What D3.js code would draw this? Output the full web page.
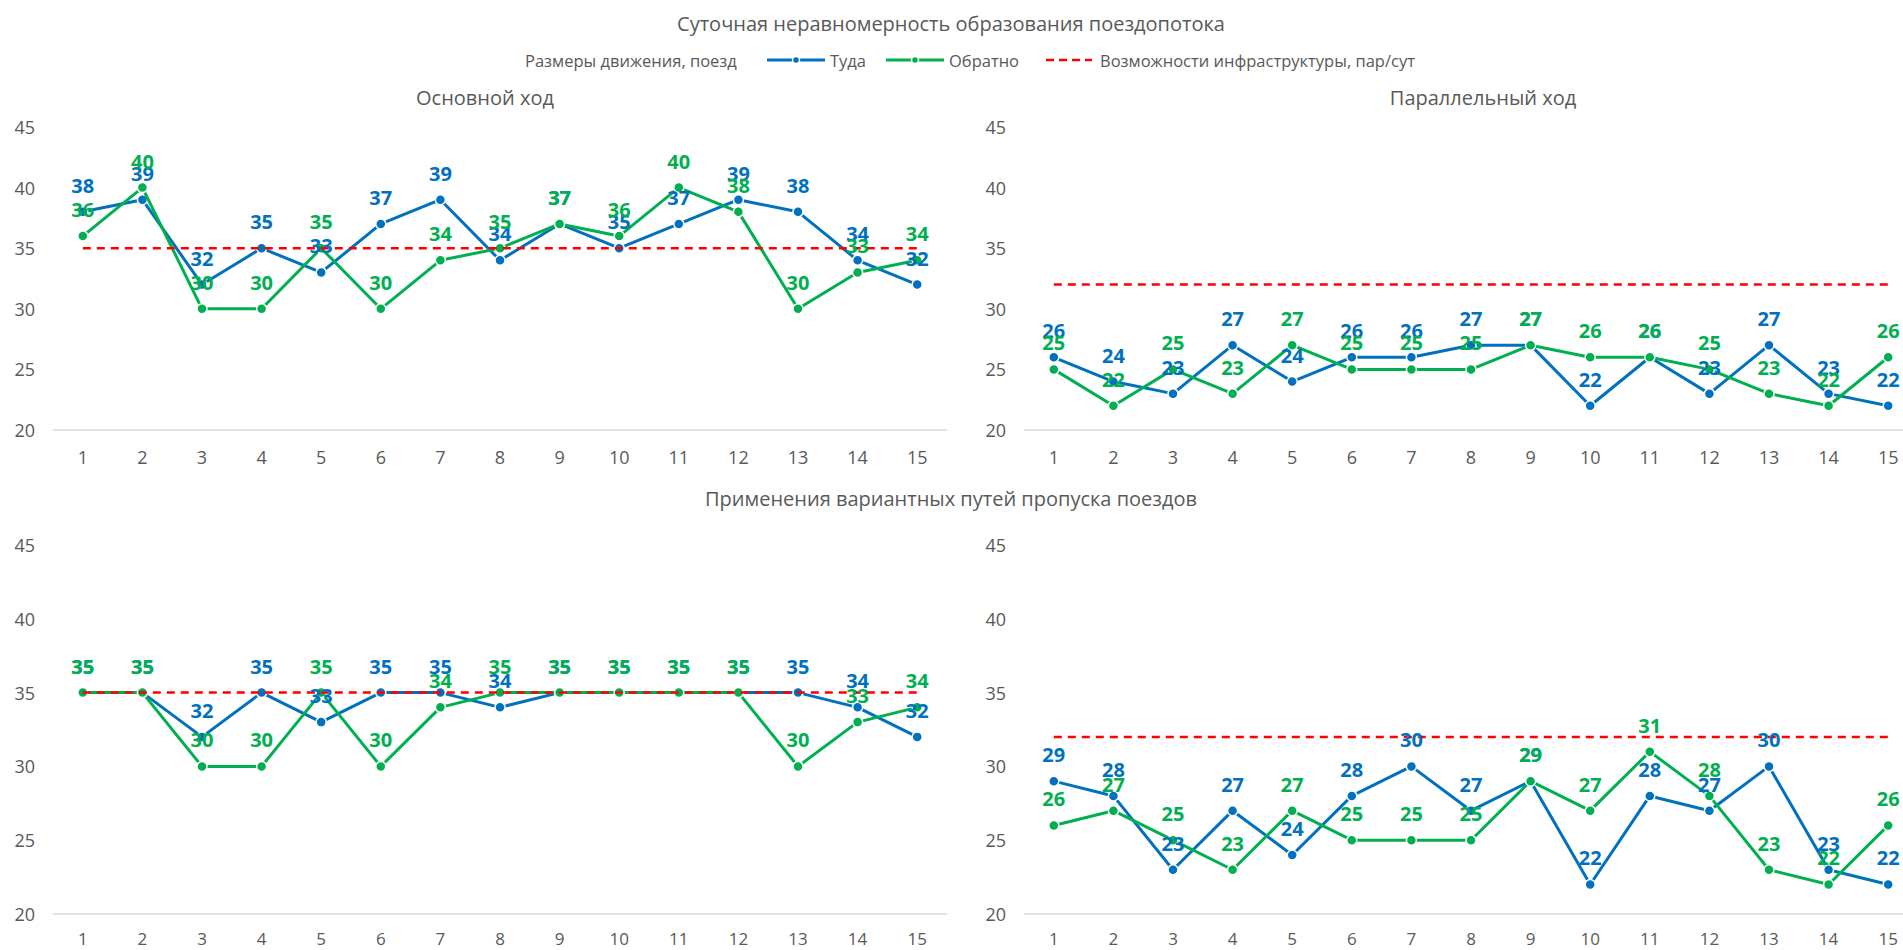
<!DOCTYPE html>
<html lang="ru">
<head>
<meta charset="utf-8">
<title>Суточная неравномерность образования поездопотока</title>
<script src="https://cdn.jsdelivr.net/npm/d3@7/dist/d3.min.js"></script>
<style>
  html, body { margin: 0; padding: 0; background: #ffffff; }
  svg { display: block; font-family: "Open Sans", "Noto Sans", "DejaVu Sans", sans-serif; }
</style>
</head>
<body>
<svg id="chart" width="1903" height="950"></svg>
<script>
// Hours of the day (categories on the x axis)
const hours = [1, 2, 3, 4, 5, 6, 7, 8, 9, 10, 11, 12, 13, 14, 15];
const yTicks = [20, 25, 30, 35, 40, 45];

// Основной ход
const mainThere = [38, 39, 32, 35, 33, 37, 39, 34, 37, 35, 37, 39, 38, 34, 32];
const mainBack  = [36, 40, 30, 30, 35, 30, 34, 35, 37, 36, 40, 38, 30, 33, 34];
const mainLimit = 35;

// Параллельный ход
const parThere = [26, 24, 23, 27, 24, 26, 26, 27, 27, 22, 26, 23, 27, 23, 22];
const parBack  = [25, 22, 25, 23, 27, 25, 25, 25, 27, 26, 26, 25, 23, 22, 26];
const parLimit = 32;

// Применение вариантных путей пропуска поездов — основной ход
const altMainThere = [35, 35, 32, 35, 33, 35, 35, 34, 35, 35, 35, 35, 35, 34, 32];
const altMainBack  = [35, 35, 30, 30, 35, 30, 34, 35, 35, 35, 35, 35, 30, 33, 34];
const altMainLimit = 35;

// Применение вариантных путей пропуска поездов — параллельный ход
const altParThere = [29, 28, 23, 27, 24, 28, 30, 27, 29, 22, 28, 27, 30, 23, 22];
const altParBack  = [26, 27, 25, 23, 27, 25, 25, 25, 29, 27, 31, 28, 23, 22, 26];
const altParLimit = 32;

const seriesNames = ["Туда", "Обратно"];
const legendTitle = "Размеры движения, поезд";
const limitName = "Возможности инфраструктуры, пар/сут";

const COLORS = { there: "#0070C0", back: "#00B050", limit: "#FF0000", text: "#595959", axis: "#D9D9D9" };

const svg = d3.select("#chart");

// Main title
svg.append("text")
  .attr("x", 951).attr("y", 23)
  .attr("text-anchor", "middle").attr("dominant-baseline", "central")
  .attr("font-size", 20).attr("fill", COLORS.text)
  .text("Суточная неравномерность образования поездопотока");

// Legend
const legend = svg.append("g").attr("font-size", 16.5).attr("fill", COLORS.text);
legend.append("text").attr("x", 525).attr("y", 60).attr("dominant-baseline", "central").text(legendTitle);

function legendLineItem(x0, color, label) {
  legend.append("line").attr("x1", x0).attr("x2", x0 + 58).attr("y1", 60).attr("y2", 60)
    .attr("stroke", color).attr("stroke-width", 3);
  legend.append("circle").attr("cx", x0 + 29).attr("cy", 60).attr("r", 3.5)
    .attr("fill", color).attr("stroke", "#fff").attr("stroke-width", 1.5);
  legend.append("text").attr("x", x0 + 63).attr("y", 60).attr("dominant-baseline", "central").text(label);
}
legendLineItem(767, COLORS.there, seriesNames[0]);
legendLineItem(886, COLORS.back, seriesNames[1]);
legend.append("line").attr("x1", 1046).attr("x2", 1092).attr("y1", 60).attr("y2", 60)
  .attr("stroke", COLORS.limit).attr("stroke-width", 2.5).attr("stroke-dasharray", "8,5");
legend.append("text").attr("x", 1100).attr("y", 60).attr("dominant-baseline", "central").text(limitName);

// Panel titles
const titles = [
  { text: "Основной ход", x: 485, y: 97 },
  { text: "Параллельный ход", x: 1483, y: 97 },
  { text: "Применения вариантных путей пропуска поездов", x: 951, y: 498 }
];
svg.selectAll("text.ptitle").data(titles).join("text")
  .attr("class", "ptitle")
  .attr("x", d => d.x).attr("y", d => d.y)
  .attr("text-anchor", "middle").attr("dominant-baseline", "central")
  .attr("font-size", 20).attr("fill", COLORS.text)
  .text(d => d.text);

function drawPanel(opt) {
  const g = svg.append("g");
  const x = d3.scalePoint().domain(hours).range([opt.x0, opt.x1]).padding(0.5);
  const y = d3.scaleLinear().domain([20, 45]).range([opt.yBottom, opt.yTop]);

  // y tick labels
  g.selectAll("text.ytick").data(yTicks).join("text")
    .attr("class", "ytick")
    .attr("x", opt.x0 - 18).attr("y", d => y(d))
    .attr("text-anchor", "end").attr("dominant-baseline", "central")
    .attr("font-size", 18).attr("fill", COLORS.text)
    .text(d => d);

  // category axis baseline
  g.append("line")
    .attr("x1", opt.x0).attr("x2", opt.x1)
    .attr("y1", y(20)).attr("y2", y(20))
    .attr("stroke", COLORS.axis).attr("stroke-width", 1.5);

  // x tick labels
  g.selectAll("text.xtick").data(hours).join("text")
    .attr("class", "xtick")
    .attr("x", d => x(d)).attr("y", y(20) + opt.xLabelGap)
    .attr("text-anchor", "middle").attr("dominant-baseline", "central")
    .attr("font-size", opt.xLabelSize).attr("fill", COLORS.text)
    .text(d => d);

  const series = [
    { values: opt.there, color: COLORS.there },
    { values: opt.back, color: COLORS.back }
  ];
  const line = d3.line().x((d, i) => x(hours[i])).y(d => y(d));

  series.forEach(s => {
    g.append("path").datum(s.values)
      .attr("d", line).attr("fill", "none")
      .attr("stroke", s.color).attr("stroke-width", 3)
      .attr("stroke-linejoin", "round").attr("stroke-linecap", "round");
    g.selectAll(null).data(s.values).join("circle")
      .attr("cx", (d, i) => x(hours[i])).attr("cy", d => y(d))
      .attr("r", 5).attr("fill", s.color)
      .attr("stroke", "#fff").attr("stroke-width", 1.5);
  });

  // infrastructure capacity
  const limitVals = hours.map(() => opt.limit);
  g.append("path").datum(limitVals)
    .attr("d", line).attr("fill", "none")
    .attr("stroke", COLORS.limit).attr("stroke-width", 2.5)
    .attr("stroke-dasharray", "8,6");

  // data labels above the points
  series.forEach(s => {
    g.selectAll(null).data(s.values).join("text")
      .attr("x", (d, i) => x(hours[i])).attr("y", d => y(d) - 19)
      .attr("text-anchor", "middle")
      .attr("font-size", 20).attr("font-weight", "bold")
      .attr("fill", s.color)
      .text(d => d);
  });
}

drawPanel({ x0: 53, x1: 947, yTop: 127, yBottom: 430, xLabelGap: 27, xLabelSize: 18,
  there: mainThere, back: mainBack, limit: mainLimit });
drawPanel({ x0: 1024, x1: 1918, yTop: 127, yBottom: 430, xLabelGap: 27, xLabelSize: 18,
  there: parThere, back: parBack, limit: parLimit });
drawPanel({ x0: 53, x1: 947, yTop: 545, yBottom: 914, xLabelGap: 24, xLabelSize: 17,
  there: altMainThere, back: altMainBack, limit: altMainLimit });
drawPanel({ x0: 1024, x1: 1918, yTop: 545, yBottom: 914, xLabelGap: 24, xLabelSize: 17,
  there: altParThere, back: altParBack, limit: altParLimit });
</script>
</body>
</html>
